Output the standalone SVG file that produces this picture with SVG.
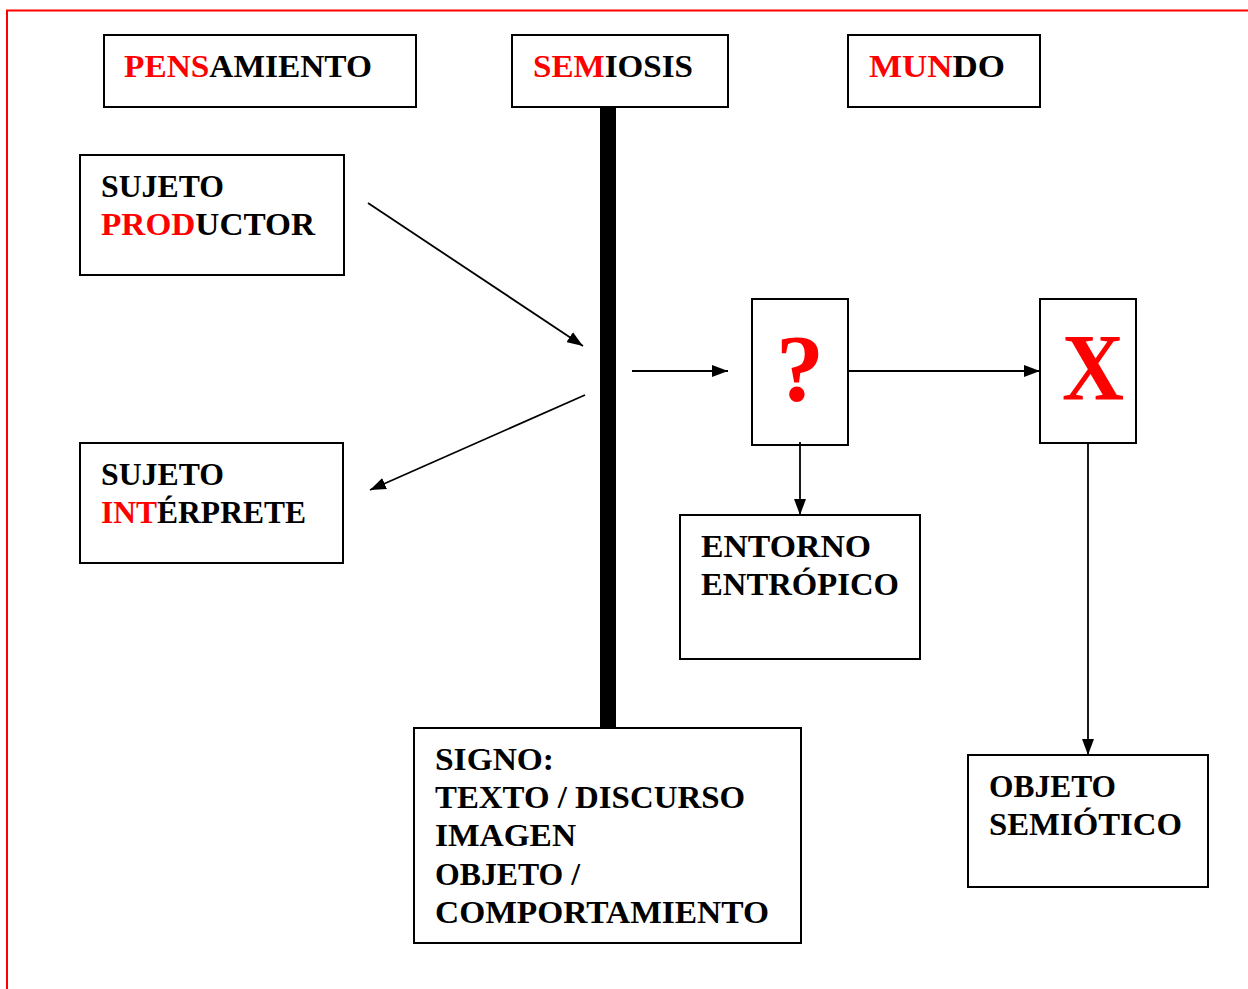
<svg xmlns="http://www.w3.org/2000/svg" width="1248" height="989" viewBox="0 0 1248 989">
<style>
.box{fill:#fff;stroke:#000;stroke-width:2}
.t{font-family:"Liberation Serif","Times New Roman",serif;font-weight:bold;font-size:32px;fill:#000}
.r{fill:#f00}
.big{font-family:"Liberation Serif","Times New Roman",serif;font-weight:bold;font-size:96px;fill:#f00;text-anchor:middle}
.c{stroke:#000;stroke-width:1.8;fill:none;marker-end:url(#ah)}
</style>
<defs>
<marker id="ah" viewBox="0 0 16 12" refX="16" refY="6" markerWidth="16" markerHeight="12" markerUnits="userSpaceOnUse" orient="auto">
<path d="M0,0 L16,6 L0,12 z" fill="#000"/>
</marker>
</defs>
<rect width="1248" height="989" fill="#fff"/>
<path d="M7,989 V10.5 H1248" fill="none" stroke="#f00" stroke-width="2"/>

<g id="pensamiento">
<rect class="box" x="104" y="35" width="312" height="72"/>
<text class="t" x="124" y="77" textLength="248" lengthAdjust="spacingAndGlyphs"><tspan class="r">PENS</tspan>AMIENTO</text>
</g>
<g id="semiosis">
<rect class="box" x="512" y="35" width="216" height="72"/>
<text class="t" x="533" y="77" textLength="160" lengthAdjust="spacingAndGlyphs"><tspan class="r">SEM</tspan>IOSIS</text>
</g>
<g id="mundo">
<rect class="box" x="848" y="35" width="192" height="72"/>
<text class="t" x="869" y="77" textLength="136" lengthAdjust="spacingAndGlyphs"><tspan class="r">MUN</tspan>DO</text>
</g>

<g id="barra">
<rect x="600" y="107" width="16" height="621" fill="#000"/>
</g>

<g id="productor">
<rect class="box" x="80" y="155" width="264" height="120"/>
<text class="t" x="101" y="197" textLength="123" lengthAdjust="spacingAndGlyphs">SUJETO</text>
<text class="t" x="101" y="235" textLength="214" lengthAdjust="spacingAndGlyphs"><tspan class="r">PROD</tspan>UCTOR</text>
</g>
<g id="interprete">
<rect class="box" x="80" y="443" width="263" height="120"/>
<text class="t" x="101" y="485" textLength="123" lengthAdjust="spacingAndGlyphs">SUJETO</text>
<text class="t" x="101" y="523" textLength="205" lengthAdjust="spacingAndGlyphs"><tspan class="r">INT</tspan>ÉRPRETE</text>
</g>

<g id="interrogante">
<rect class="box" x="752" y="299" width="96" height="146"/>
<text class="big" x="800" y="401">?</text>
</g>
<g id="x">
<rect class="box" x="1040" y="299" width="96" height="144"/>
<text class="big" x="1093" y="400" textLength="62" lengthAdjust="spacingAndGlyphs">X</text>
</g>

<g id="entorno">
<rect class="box" x="680" y="515" width="240" height="144"/>
<text class="t" x="701" y="557" textLength="170" lengthAdjust="spacingAndGlyphs">ENTORNO</text>
<text class="t" x="701" y="595" textLength="198" lengthAdjust="spacingAndGlyphs">ENTRÓPICO</text>
</g>

<g id="signo">
<rect class="box" x="414" y="728" width="387" height="215"/>
<text class="t" x="435" y="770" textLength="119" lengthAdjust="spacingAndGlyphs">SIGNO:</text>
<text class="t" x="435" y="808" textLength="310" lengthAdjust="spacingAndGlyphs">TEXTO / DISCURSO</text>
<text class="t" x="435" y="846" textLength="141" lengthAdjust="spacingAndGlyphs">IMAGEN</text>
<text class="t" x="435" y="885" textLength="145" lengthAdjust="spacingAndGlyphs">OBJETO /</text>
<text class="t" x="435" y="923" textLength="334" lengthAdjust="spacingAndGlyphs">COMPORTAMIENTO</text>
</g>

<g id="objeto">
<rect class="box" x="968" y="755" width="240" height="132"/>
<text class="t" x="989" y="797" textLength="127" lengthAdjust="spacingAndGlyphs">OBJETO</text>
<text class="t" x="989" y="835" textLength="193" lengthAdjust="spacingAndGlyphs">SEMIÓTICO</text>
</g>

<g id="conectores">
<line class="c" x1="368" y1="203" x2="583" y2="346"/>
<line class="c" x1="585" y1="395" x2="370" y2="490"/>
<line class="c" x1="632" y1="371" x2="728" y2="371"/>
<line class="c" x1="848" y1="371" x2="1040" y2="371"/>
<line class="c" x1="800" y1="442" x2="800" y2="515"/>
<line class="c" x1="1088" y1="443" x2="1088" y2="755"/>
</g>
</svg>
